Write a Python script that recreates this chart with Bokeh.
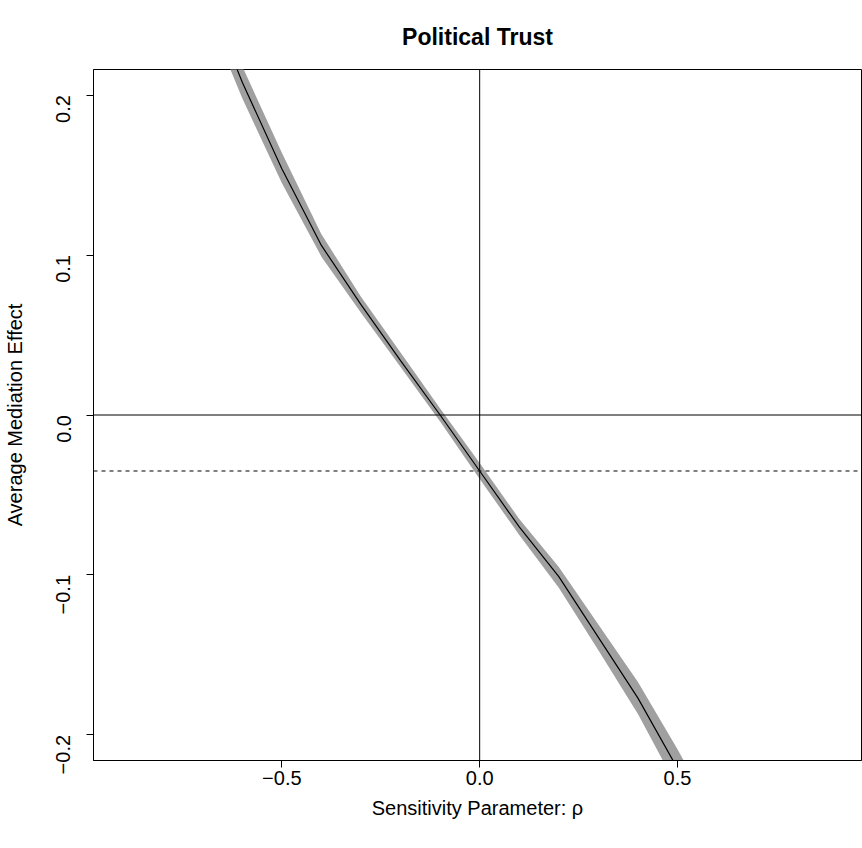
import math
from bokeh.plotting import figure
from bokeh.models import Range1d, Span, FixedTicker
from bokeh.embed import file_html
from bokeh.resources import INLINE

# Sensitivity parameter rho and estimated average mediation effect with CI
rho = [-0.7, -0.6, -0.5, -0.4, -0.3, -0.2, -0.1, 0.0, 0.1, 0.2, 0.3, 0.4, 0.5, 0.6]
acme = [0.270, 0.208, 0.154, 0.106, 0.069, 0.034, 0.000, -0.035, -0.070, -0.101, -0.139, -0.177, -0.221, -0.268]
ci_lower = [0.258, 0.198, 0.145, 0.099, 0.064, 0.030, -0.004, -0.040, -0.075, -0.108, -0.147, -0.187, -0.233, -0.282]
ci_upper = [0.282, 0.218, 0.164, 0.113, 0.074, 0.039, 0.004, -0.030, -0.065, -0.095, -0.131, -0.167, -0.209, -0.254]
acme_estimate = -0.035

x_ticks = [-0.5, 0.0, 0.5]
y_ticks = [-0.2, -0.1, 0.0, 0.1, 0.2]

FONT = "Liberation Sans"

p = figure(width=862, height=848, output_backend="svg", toolbar_location=None,
           x_range=Range1d(-0.976, 0.965), y_range=Range1d(-0.216, 0.216),
           min_border_left=91, min_border_right=1, min_border_top=69, min_border_bottom=88,
           title="Political Trust")

p.title.align = "center"
p.title.text_font = FONT
p.title.text_font_size = "23px"
p.title.text_font_style = "bold"
p.title.text_color = "black"
p.title.standoff = 40

p.background_fill_color = "white"
p.border_fill_color = "white"
p.outline_line_color = "black"
p.outline_line_width = 1
p.xgrid.visible = False
p.ygrid.visible = False

# CI band
band_x = rho + rho[::-1]
band_y = ci_lower + ci_upper[::-1]
p.patch(band_x, band_y, fill_color="#A0A0A0", line_color=None)
p.line(rho, acme, line_color="black", line_width=1.2)

p.add_layout(Span(location=0, dimension="width", line_color="black", line_width=1))
p.add_layout(Span(location=0, dimension="height", line_color="black", line_width=1))
p.add_layout(Span(location=acme_estimate, dimension="width", line_color="black",
                  line_width=1.2, line_dash="4 4"))

for ax in (p.xaxis[0], p.yaxis[0]):
    ax.axis_line_color = "black"
    ax.major_tick_line_color = "black"
    ax.minor_tick_line_color = None
    ax.major_tick_in = 0
    ax.major_tick_out = 7
    ax.major_label_text_font = FONT
    ax.major_label_text_font_size = "20px"
    ax.major_label_text_color = "black"
    ax.axis_label_text_font = FONT
    ax.axis_label_text_font_size = "20px"
    ax.axis_label_text_font_style = "normal"
    ax.axis_label_text_color = "black"

p.xaxis[0].ticker = FixedTicker(ticks=x_ticks)
p.yaxis[0].ticker = FixedTicker(ticks=y_ticks)
fmt = lambda v: ("%.1f" % v).replace("-", "\u2212")
p.xaxis[0].major_label_overrides = {v: fmt(v) for v in x_ticks}
p.yaxis[0].major_label_overrides = {v: fmt(v) for v in y_ticks}
p.xaxis[0].axis_label = "Sensitivity Parameter: \u03c1"
p.yaxis[0].axis_label = "Average Mediation Effect"
p.xaxis[0].major_label_standoff = 3
p.xaxis[0].axis_label_standoff = 9
p.yaxis[0].major_label_orientation = math.pi / 2
p.yaxis[0].major_label_standoff = 23
p.yaxis[0].axis_label_standoff = 21

open("out.html", "w").write(file_html(p, INLINE))
